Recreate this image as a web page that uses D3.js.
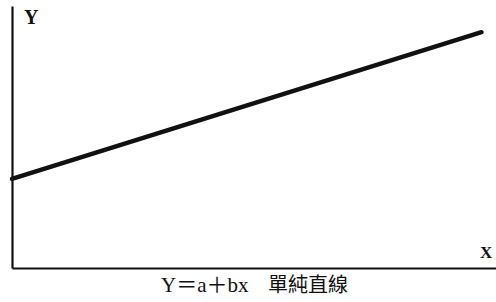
<!DOCTYPE html>
<html>
<head>
<meta charset="utf-8">
<script src="https://cdn.jsdelivr.net/npm/d3@7"></script>
<style>
  body { margin: 0; background: #fff; }
  svg text { font-family: "Liberation Serif", "DejaVu Serif", "Noto Sans CJK TC", serif; fill: #111; }
  .axis path { stroke: #111; stroke-width: 2.2; }
</style>
</head>
<body>
<div id="container"></div>
<script>
const width = 496;
const height = 302;

// line endpoints (arbitrary units, 0-100)
const xValues = [0, 97];
const yValues = [34, 90];
const xLabel = "X";
const yLabel = "Y";
const caption = "Y＝a＋bx";
const captionCn = "單純直線";

const svg = d3.select("div#container").append("svg")
  .attr("width", width)
  .attr("height", height);

//----------------------------SCALES----------------------------//
const xScale = d3.scaleLinear().domain([0, 100]).range([12, 496]);
const yScale = d3.scaleLinear().domain([0, 100]).range([268, 6]);

//-----------------------------AXES-----------------------------//
svg.append("g")
  .attr("class", "axis")
  .attr("transform", "translate(0," + yScale(0) + ")")
  .call(d3.axisBottom(xScale).tickValues([]).tickSizeOuter(0));

svg.append("g")
  .attr("class", "axis")
  .attr("transform", "translate(" + xScale(0) + ",0)")
  .call(d3.axisLeft(yScale).tickValues([]).tickSizeOuter(0));

//----------------------------LINE-----------------------------//
const points = xValues.map((x, i) => ({ x: x, y: yValues[i] }));
const line = d3.line()
  .x(d => xScale(d.x))
  .y(d => yScale(d.y));

svg.append("path")
  .datum(points)
  .attr("d", line)
  .attr("fill", "none")
  .attr("stroke", "#111")
  .attr("stroke-width", 4.5)
  .attr("stroke-linecap", "round");

//----------------------------LABELS----------------------------//
svg.append("text")
  .attr("x", 24).attr("y", 24)
  .style("font-size", "20px")
  .style("font-weight", "bold")
  .text(yLabel);

svg.append("text")
  .attr("x", 480).attr("y", 258)
  .style("font-size", "17px")
  .style("font-weight", "bold")
  .text(xLabel);

svg.append("text")
  .attr("x", 161).attr("y", 292)
  .style("font-size", "21px")
  .text(caption);

svg.append("text")
  .attr("x", 268).attr("y", 292)
  .style("font-family", "'Noto Sans CJK TC', sans-serif")
  .style("font-size", "20px")
  .text(captionCn);
</script>
</body>
</html>
